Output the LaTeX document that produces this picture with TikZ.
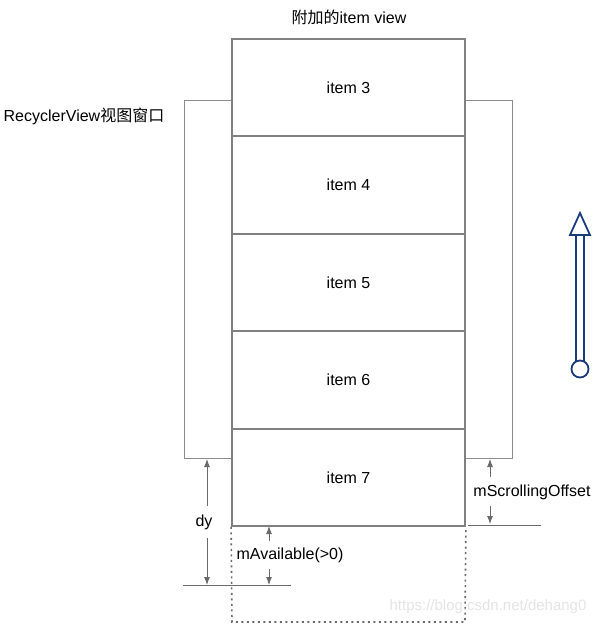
\documentclass[tikz,border=0pt]{standalone}
\usepackage{fontspec}
\setmainfont{Liberation Sans}
\newfontfamily\cjk{Noto Sans CJK SC}
\usetikzlibrary{arrows.meta}
\definecolor{itemgray}{HTML}{808080}
\definecolor{wingray}{HTML}{8C8C8C}
\definecolor{arrgray}{HTML}{6A6A6A}
\definecolor{navy}{HTML}{1B3C7C}
\definecolor{wm}{HTML}{E4E4E4}
\begin{document}
\begin{tikzpicture}[x=1pt,y=-1pt,
  itembox/.style={draw=itemgray,line width=1.8pt,minimum width=233pt,inner sep=0pt,anchor=north,font=\fontsize{16}{19}\selectfont},
  winbox/.style={draw=wingray,line width=0.9pt},
  dim/.style={draw=arrgray,line width=0.9pt,-{Latex[length=8pt,width=6pt]}},
  guide/.style={draw=arrgray,line width=0.8pt},
  lbl/.style={font=\fontsize{16}{19}\selectfont,inner sep=0pt},
  bluearrow/.style={draw=navy,line width=1.8pt,fill=white}]
\useasboundingbox (0,0) rectangle (599,624);
% window
\draw[winbox] (184,100) rectangle (512,458);
\fill[white] (232,38) rectangle (465,525);
% items
\node[itembox,minimum height=97pt] (i3) at (348.5,38) {item 3};
\node[itembox,minimum height=98pt] (i4) at (348.5,135) {item 4};
\node[itembox,minimum height=97pt] (i5) at (348.5,233) {item 5};
\node[itembox,minimum height=98pt] (i6) at (348.5,330) {item 6};
\node[itembox,minimum height=97pt] (i7) at (348.5,428) {item 7};
% dotted extension
\draw[draw=arrgray,line width=1.6pt,dash pattern=on 2pt off 3.5pt] (i7.south west) -- (232,622) -- (465,622) -- (i7.south east);
% labels
\node[lbl] (title) at (349,17) {{\cjk 附加的}item view};
\node[lbl] (rv) at (84,116) {RecyclerView{\cjk 视图窗口}};
% dy
\coordinate (dytop) at (207,459);
\coordinate (dybot) at (207,585);
\coordinate (dys1) at (207,506);
\coordinate (dys2) at (207,538);
\draw[guide] (183,585) -- (291,585);
\node[lbl] (dy) at (204,522) {dy};
\draw[dim] (dys1) -- (dytop);
\draw[dim] (dys2) -- (dybot);
% mAvailable
\node[lbl] (mav) at (290,555) {mAvailable(>0)};
\coordinate (mavtop) at (269,526);
\coordinate (mavbot) at (269,585);
\coordinate (mavs1) at (269,541);
\coordinate (mavs2) at (269,569);
\draw[dim] (mavs1) -- (mavtop);
\draw[dim] (mavs2) -- (mavbot);
% mScrollingOffset
\node[lbl] (mso) at (532,492) {mScrollingOffset};
\draw[guide] (468,525) -- (541,525);
\coordinate (msotop) at (490,459);
\coordinate (msobot) at (490,524);
\coordinate (msos1) at (490,477);
\coordinate (msos2) at (490,506);
\draw[dim] (msos1) -- (msotop);
\draw[dim] (msos2) -- (msobot);
% blue scroll arrow
\draw[bluearrow] (576,234) rectangle (584,362);
\draw[bluearrow] (580,213) -- (590,235) -- (570,235) -- cycle;
\draw[bluearrow] (580,369) circle (8.5pt);
% watermark
\node[lbl,text=wm,font=\fontsize{15}{17}\selectfont] (wmk) at (488,607) {https://blog.csdn.net/dehang0};
\end{tikzpicture}
\end{document}
